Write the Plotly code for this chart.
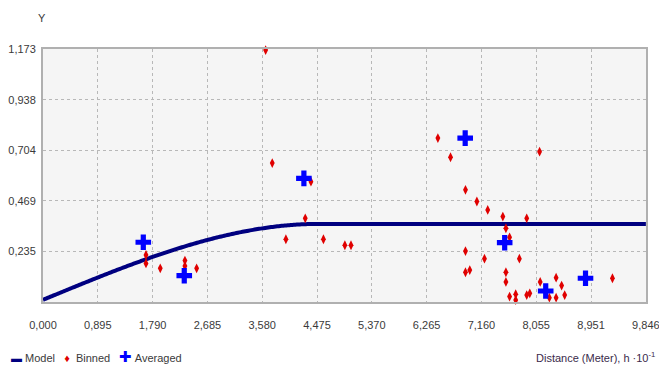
import numpy as np
import plotly.graph_objects as go

# Empirical semivariogram cloud (binned) – lag distance, semivariance
binned_x = [1.682, 1.682, 1.915, 2.318, 2.318, 2.509, 3.636, 3.744, 3.967, 4.283,
            4.376, 4.580, 4.930, 5.030, 6.449, 6.656, 6.900, 7.086, 7.263, 7.510,
            7.900, 7.560, 7.620, 6.900, 7.210, 7.780, 6.900, 6.970, 7.560, 7.560,
            7.620, 7.720, 7.720, 7.900, 7.950, 8.110, 8.120, 8.270, 8.380, 8.380,
            8.470, 8.520, 9.300]
binned_y = [0.218, 0.179, 0.156, 0.192, 0.167, 0.156, 1.168, 0.644, 0.291, 0.388,
            0.558, 0.291, 0.263, 0.263, 0.760, 0.671, 0.520, 0.466, 0.427, 0.396,
            0.388, 0.342, 0.300, 0.236, 0.201, 0.201, 0.138, 0.148, 0.138, 0.093,
            0.025, 0.036, 0.009, 0.032, 0.040, 0.697, 0.093, 0.020, 0.113, 0.020,
            0.076, 0.032, 0.110]

# Averaged semivariance per lag
avg_x = [1.638, 2.307, 4.261, 6.895, 7.540, 8.210, 8.860]
avg_y = [0.277, 0.122, 0.573, 0.760, 0.275, 0.051, 0.110]

# Fitted spherical model parameters
nugget = 0.010
partial_sill = 0.352
model_range = 4.50

# Axis ticks
x_ticks = [0.000, 0.895, 1.790, 2.685, 3.580, 4.475, 5.370, 6.265, 7.160, 8.055, 8.951, 9.846]
y_ticks = [0.235, 0.469, 0.704, 0.938, 1.173]
x_max = 9.846
y_max = 1.173


def comma(v):
    return f"{v:.3f}".replace(".", ",")


h = np.linspace(0, x_max, 400)
r = np.clip(h / model_range, 0, 1)
gamma = nugget + partial_sill * (1.5 * r - 0.5 * r ** 3)

font_family = "Liberation Sans, Arial, sans-serif"
text_color = "#3a3a3a"

fig = go.Figure()
fig.add_trace(go.Scatter(
    x=h, y=gamma, mode="lines", name="Model",
    line=dict(color="#000080", width=4, simplify=False), cliponaxis=False,
))
fig.add_trace(go.Scatter(
    x=binned_x, y=binned_y, mode="markers", name="Binned",
    marker=dict(symbol="diamond-tall", size=7, color="#e00000",
                line=dict(width=0)),
    cliponaxis=False,
))
fig.add_trace(go.Scatter(
    x=avg_x, y=avg_y, mode="markers", name="Averaged",
    marker=dict(symbol="cross", size=13, color="#0000ff",
                line=dict(width=0)),
    cliponaxis=False,
))

legend_text = (
    '<span style="color:#000080">▬</span> Model&nbsp;&nbsp; '
    '<span style="color:#e00000">♦</span>&nbsp; Binned&nbsp;&nbsp; '
    '<span style="color:#0000ff;font-size:15px">✚</span> Averaged'
)

fig.update_layout(
    width=659, height=370,
    margin=dict(l=43, r=13, t=49, b=68, autoexpand=False),
    paper_bgcolor="white",
    plot_bgcolor="#f5f5f5",
    font=dict(family=font_family, size=11, color=text_color),
    showlegend=False,
    xaxis=dict(
        range=[0, x_max * 1.0002], tickvals=x_ticks, ticktext=[comma(v) for v in x_ticks],
        showgrid=True, gridcolor="#b8b8b8", griddash="dot", gridwidth=1,
        zeroline=False, showline=True, linecolor="#b0b0b0", linewidth=2, mirror=True,
        ticks="outside", ticklen=12, tickcolor="rgba(0,0,0,0)", automargin=False,
        ticklabeloverflow="allow",
    ),
    yaxis=dict(
        range=[0, y_max], tickvals=y_ticks, ticktext=[comma(v) for v in y_ticks],
        showgrid=True, gridcolor="#b8b8b8", griddash="dot", gridwidth=1,
        zeroline=False, showline=True, linecolor="#b0b0b0", linewidth=2, mirror=True,
        ticks="outside", ticklen=3, tickcolor="rgba(0,0,0,0)", automargin=False,
        ticklabeloverflow="allow",
    ),
    annotations=[
        dict(text="Y", xref="paper", yref="paper", x=-0.002, y=1.123,
             xanchor="center", yanchor="middle", showarrow=False,
             font=dict(size=11, family=font_family, color=text_color)),
        dict(text=legend_text, xref="paper", yref="paper",
             x=-0.056, y=-0.217, xanchor="left", yanchor="middle", showarrow=False,
             font=dict(size=11, family=font_family, color=text_color)),
        dict(text="Distance (Meter), h ·10<sup>-1</sup>", xref="paper", yref="paper",
             x=1.018, y=-0.217, xanchor="right", yanchor="middle", showarrow=False,
             font=dict(size=11, family=font_family, color="#3a2a4a")),
    ],
)

fig.write_html("out.html")
